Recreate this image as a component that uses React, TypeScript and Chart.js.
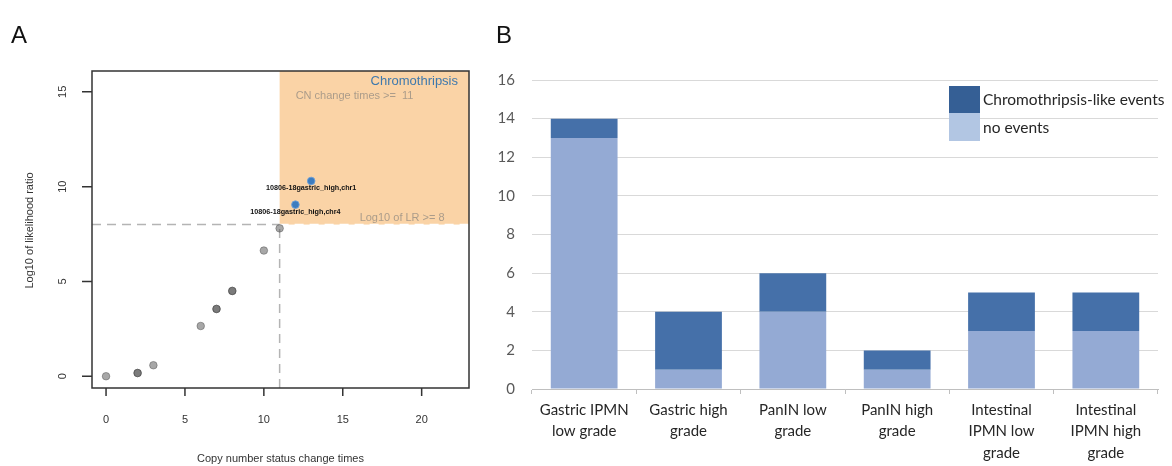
import React, { useEffect, useRef } from "react";
import { Chart, registerables } from "chart.js";

Chart.register(...registerables);

// ---------- Panel A data ----------
const cnChangeTimes = [0, 2, 2, 3, 6, 7, 7, 8, 8, 10, 11];
const log10LR = [0, 0.17, 0.17, 0.58, 2.65, 3.55, 3.55, 4.5, 4.5, 6.63, 7.8];
const chromoCnTimes = [13, 12];
const chromoLog10LR = [10.3, 9.05];
const chromoLabels = ["10806-18gastric_high,chr1", "10806-18gastric_high,chr4"];
const cnThreshold = 11;
const lrThreshold = 8;
const scatterXTicks = [0, 5, 10, 15, 20];
const scatterYTicks = [0, 5, 10, 15];

// ---------- Panel B data ----------
const categories = [
  ["Gastric IPMN", "low grade"],
  ["Gastric high", "grade"],
  ["PanIN low", "grade"],
  ["PanIN high", "grade"],
  ["Intestinal", "IPMN low", "grade"],
  ["Intestinal", "IPMN high", "grade"],
];
const noEvents = [13, 1, 4, 1, 3, 3];
const chromoEvents = [1, 3, 2, 1, 2, 2];
const legendLabels = ["Chromothripsis-like events", "no events"];

const RFONT = "'Liberation Sans', Arial, sans-serif";
const CFONT = "Lato, 'Open Sans', sans-serif";

const panelAPlugin = {
  id: "panelA",
  beforeDatasetsDraw(chart: any) {
    const { ctx, chartArea: ca, scales } = chart;
    const x = scales.x, y = scales.y;
    const px = x.getPixelForValue(cnThreshold);
    const py = y.getPixelForValue(lrThreshold);
    ctx.save();
    ctx.fillStyle = "#fad3a6";
    ctx.fillRect(px, ca.top, ca.right - px, py - ca.top);
    // dashed threshold lines
    ctx.setLineDash([9, 6]);
    ctx.lineWidth = 1.5;
    ctx.strokeStyle = "#b4b4b4";
    ctx.beginPath();
    ctx.moveTo(ca.left, py);
    ctx.lineTo(px, py);
    ctx.moveTo(px, ca.bottom);
    ctx.lineTo(px, py);
    ctx.stroke();
    ctx.strokeStyle = "#ffffff";
    ctx.beginPath();
    ctx.moveTo(px, py);
    ctx.lineTo(ca.right, py);
    ctx.stroke();
    ctx.setLineDash([]);
    // region texts
    ctx.fillStyle = "#3f79ad";
    ctx.font = `13px ${RFONT}`;
    ctx.textAlign = "right";
    ctx.textBaseline = "middle";
    ctx.fillText("Chromothripsis", ca.right - 11, ca.top + 10);
    ctx.fillStyle = "#ab9c8a";
    ctx.font = `11px ${RFONT}`;
    ctx.textAlign = "left";
    ctx.fillText("CN change times >=  11", px + 16, ca.top + 25);
    ctx.fillText("Log10 of LR >= 8", px + 80, py - 7);
    ctx.restore();
  },
  afterDatasetsDraw(chart: any) {
    const { ctx, chartArea: ca, scales } = chart;
    const x = scales.x, y = scales.y;
    ctx.save();
    // point labels
    ctx.fillStyle = "#111";
    ctx.font = `bold 7.2px ${RFONT}`;
    ctx.textAlign = "center";
    ctx.textBaseline = "middle";
    chromoLabels.forEach((lab, i) => {
      ctx.fillText(lab, x.getPixelForValue(chromoCnTimes[i]), y.getPixelForValue(chromoLog10LR[i]) + 7.5);
    });
    // box
    ctx.strokeStyle = "#333";
    ctx.lineWidth = 1.5;
    ctx.strokeRect(ca.left, ca.top, ca.right - ca.left, ca.bottom - ca.top);
    // axis ticks
    ctx.font = `11px ${RFONT}`;
    ctx.fillStyle = "#333";
    ctx.beginPath();
    scatterXTicks.forEach((v) => {
      const p = x.getPixelForValue(v);
      ctx.moveTo(p, ca.bottom);
      ctx.lineTo(p, ca.bottom + 8);
    });
    scatterYTicks.forEach((v) => {
      const p = y.getPixelForValue(v);
      ctx.moveTo(ca.left, p);
      ctx.lineTo(ca.left - 10, p);
    });
    ctx.stroke();
    ctx.textAlign = "center";
    ctx.textBaseline = "middle";
    scatterXTicks.forEach((v) => {
      ctx.fillText(String(v), x.getPixelForValue(v), ca.bottom + 32);
    });
    scatterYTicks.forEach((v) => {
      ctx.save();
      ctx.translate(ca.left - 29, y.getPixelForValue(v));
      ctx.rotate(-Math.PI / 2);
      ctx.fillText(String(v), 0, 0);
      ctx.restore();
    });
    // axis titles
    ctx.fillText("Copy number status change times", (ca.left + ca.right) / 2, 459);
    ctx.save();
    ctx.translate(30, (ca.top + ca.bottom) / 2 + 1);
    ctx.rotate(-Math.PI / 2);
    ctx.fillText("Log10 of likelihood ratio", 0, 0);
    ctx.restore();
    // panel letter
    ctx.fillStyle = "#111";
    ctx.font = `24px ${RFONT}`;
    ctx.textAlign = "left";
    ctx.textBaseline = "alphabetic";
    ctx.fillText("A", 11, 43);
    ctx.restore();
  },
};

const panelBPlugin = {
  id: "panelB",
  afterDraw(chart: any) {
    const { ctx } = chart;
    ctx.save();
    // legend
    const lx = 469, lw = 31;
    ctx.fillStyle = "#355f95";
    ctx.fillRect(lx, 86, lw, 27);
    ctx.fillStyle = "#b2c6e3";
    ctx.fillRect(lx, 113, lw, 28);
    ctx.fillStyle = "#262626";
    ctx.font = `15.5px ${CFONT}`;
    ctx.textAlign = "left";
    ctx.textBaseline = "middle";
    ctx.fillText(legendLabels[0], lx + 34, 100);
    ctx.fillText(legendLabels[1], lx + 34, 128);
    // panel letter
    ctx.fillStyle = "#111";
    ctx.font = `24px ${RFONT}`;
    ctx.textBaseline = "alphabetic";
    ctx.fillText("B", 16, 43);
    ctx.restore();
  },
};

export default function App() {
  const refA = useRef<HTMLCanvasElement>(null);
  const refB = useRef<HTMLCanvasElement>(null);

  useEffect(() => {
    const chartA = new Chart(refA.current as HTMLCanvasElement, {
      type: "scatter",
      data: {
        datasets: [
          {
            data: cnChangeTimes.map((v, i) => ({ x: v, y: log10LR[i] })),
            backgroundColor: "rgba(80,80,80,0.5)",
            borderColor: "rgba(60,60,60,0.4)",
            borderWidth: 1,
            pointRadius: 3.8,
          },
          {
            data: chromoCnTimes.map((v, i) => ({ x: v, y: chromoLog10LR[i] })),
            backgroundColor: "#3c7cbf",
            borderColor: "rgba(110,160,215,0.9)",
            borderWidth: 1,
            pointRadius: 3.8,
          },
        ],
      },
      options: {
        responsive: false,
        animation: false,
        layout: { padding: { left: 92, top: 71, right: 11, bottom: 78 } },
        plugins: { legend: { display: false }, tooltip: { enabled: false } },
        scales: {
          x: { type: "linear", display: false, min: -0.89, max: 23 },
          y: { type: "linear", display: false, min: -0.62, max: 16.1 },
        },
      },
      plugins: [panelAPlugin],
    } as any);

    const chartB = new Chart(refB.current as HTMLCanvasElement, {
      type: "bar",
      data: {
        labels: categories,
        datasets: [
          {
            label: legendLabels[1],
            data: noEvents,
            backgroundColor: "#94aad4",
            stack: "s",
            categoryPercentage: 1,
            barPercentage: 0.64,
          },
          {
            label: legendLabels[0],
            data: chromoEvents,
            backgroundColor: "#4570a9",
            stack: "s",
            categoryPercentage: 1,
            barPercentage: 0.64,
          },
        ],
      },
      options: {
        responsive: false,
        animation: false,
        layout: { padding: { left: 0, top: 80, right: 14, bottom: 0 } },
        plugins: { legend: { display: false }, tooltip: { enabled: false } },
        scales: {
          x: {
            stacked: true,
            grid: {
              display: true,
              offset: true,
              drawOnChartArea: false,
              drawTicks: true,
              tickLength: 5,
              color: "#bfbfbf",
            },
            border: { display: true, color: "#bfbfbf" },
            ticks: {
              font: { family: CFONT, size: 15, lineHeight: 1.45 },
              color: "#262626",
              padding: 5,
              maxRotation: 0,
              autoSkip: false,
            },
            afterFit: (s: any) => {
              s.height = 77;
            },
          },
          y: {
            stacked: true,
            min: 0,
            max: 16,
            ticks: {
              stepSize: 2,
              padding: 17,
              font: { family: CFONT, size: 15 },
              color: "#595959",
            },
            grid: { color: "#d9d9d9", drawTicks: false },
            border: { display: false },
            afterFit: (s: any) => {
              s.width = 52;
            },
          },
        },
      },
      plugins: [panelBPlugin],
    } as any);

    return () => {
      chartA.destroy();
      chartB.destroy();
    };
  }, []);

  return (
    <div style={{ position: "absolute", left: 0, top: 0, width: 1172, height: 466, background: "#fff" }}>
      <canvas ref={refA} width={480} height={466} style={{ position: "absolute", left: 0, top: 0 }} />
      <canvas ref={refB} width={692} height={466} style={{ position: "absolute", left: 480, top: 0 }} />
    </div>
  );
}
